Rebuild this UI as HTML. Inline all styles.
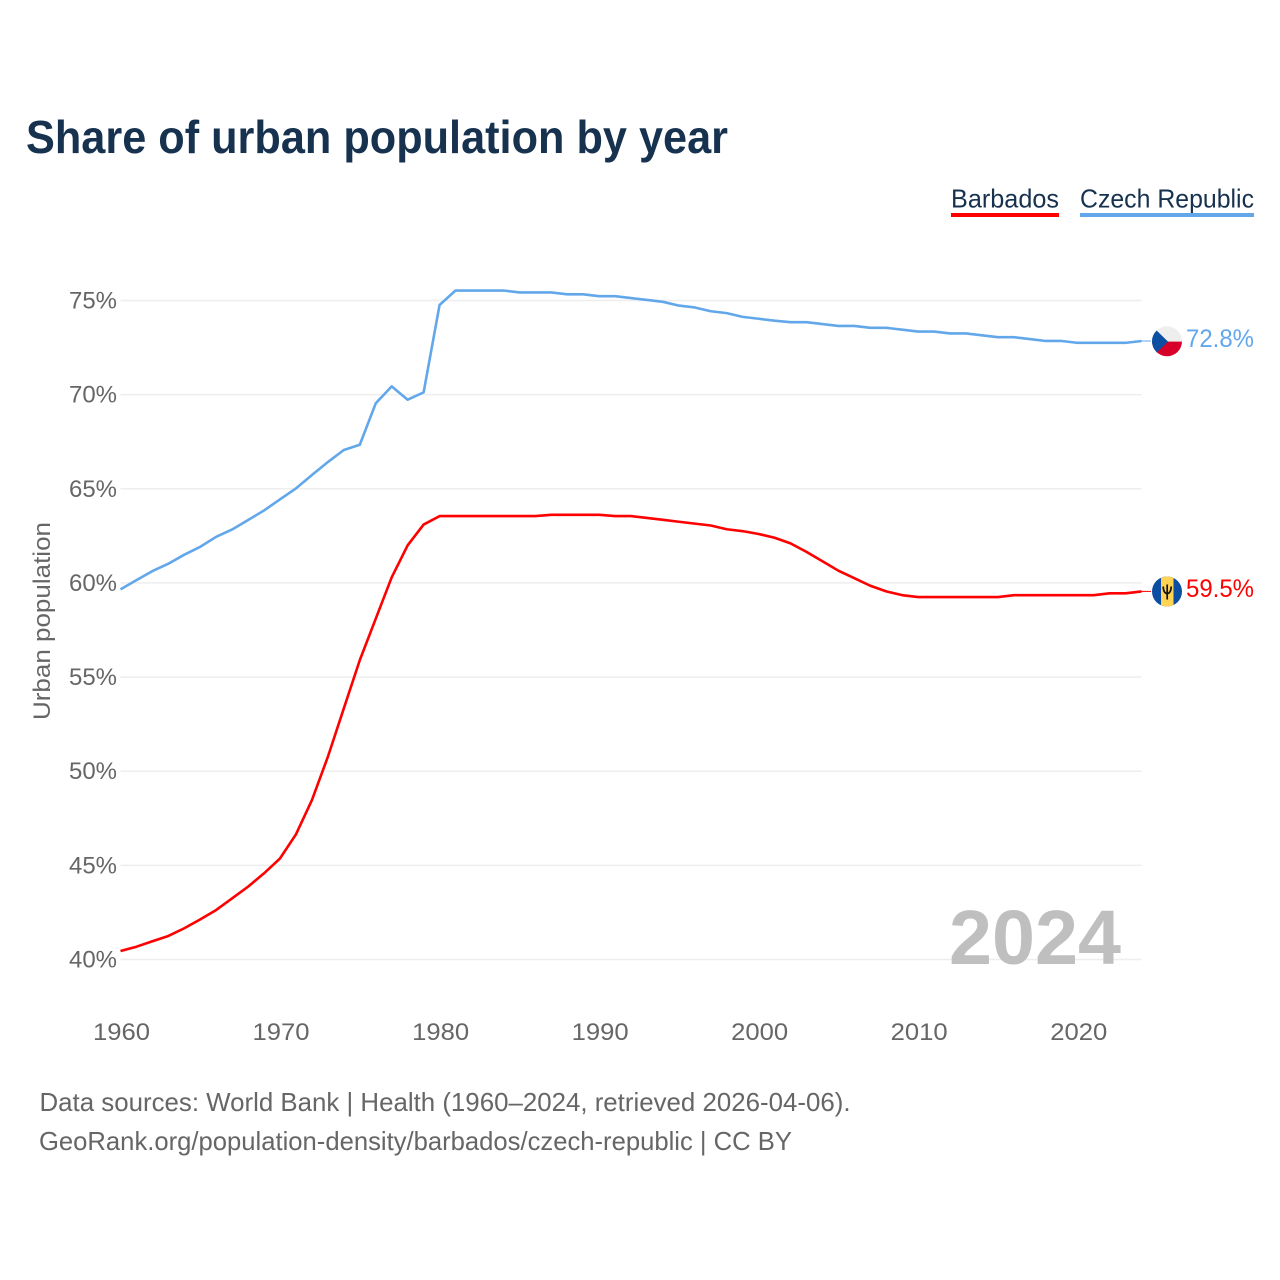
<!DOCTYPE html>
<html lang="en">
<head>
<meta charset="utf-8">
<title>Share of urban population by year</title>
<style>
html,body{margin:0;padding:0;background:#fff;}
svg{display:block;font-family:"Liberation Sans",sans-serif;}
</style>
</head>
<body>
<svg id="chart" xmlns="http://www.w3.org/2000/svg" width="1280" height="1280" viewBox="0 0 1280 1280">
  <rect x="0" y="0" width="1280" height="1280" fill="#ffffff"/>
  <text x="26" y="153" font-size="46" font-weight="700" fill="#17324f" textLength="702" lengthAdjust="spacingAndGlyphs">Share of urban population by year</text>

  <g>
    <text x="951" y="207.5" font-size="26" fill="#17324f" textLength="108" lengthAdjust="spacingAndGlyphs">Barbados</text>
    <rect x="951" y="213" width="108" height="4" fill="#ff0000"/>
  </g>
  <g>
    <text x="1080" y="207.5" font-size="26" fill="#17324f" textLength="174" lengthAdjust="spacingAndGlyphs">Czech Republic</text>
    <rect x="1080" y="213" width="174" height="4" fill="#63a7eb"/>
  </g>

  <g id="grid"></g>
  <g id="yticks"></g>
  <g id="xticks"></g>

  <text transform="translate(50 621) rotate(-90)" text-anchor="middle" font-size="24" fill="#666666" textLength="198" lengthAdjust="spacingAndGlyphs">Urban population</text>

  <text x="949" y="964" font-size="77" font-weight="700" fill="#bfbfbf" textLength="172" lengthAdjust="spacingAndGlyphs">2024</text>

  <g id="series"></g>

  <defs>
    <clipPath id="clip-cz"><circle cx="1167" cy="341.3" r="15"/></clipPath>
    <clipPath id="clip-bb"><circle cx="1167" cy="591.5" r="15"/></clipPath>
  </defs>

  <g clip-path="url(#clip-cz)">
    <rect x="1152" y="326" width="30" height="15.6" fill="#eeeeee"/>
    <rect x="1152" y="341.6" width="30" height="15.4" fill="#d7002b"/>
    <polygon points="1152,326 1168,341.6 1152,357" fill="#0b4ea2"/>
  </g>
  <text id="label-cz" x="1186" y="347" font-size="25" fill="#63a7eb" textLength="68" lengthAdjust="spacingAndGlyphs">72.8%</text>

  <g clip-path="url(#clip-bb)">
    <rect x="1152" y="576" width="30" height="31" fill="#0b4ea2"/>
    <rect x="1161" y="576" width="12.5" height="31" fill="#ffd455"/>
    <path d="M1163.2 586.5 C1163.3 591 1165 593.3 1167.2 593.7 C1169.4 593.3 1171.1 591 1171.2 586.5 M1167.2 584.5 V599.5" fill="none" stroke="#111111" stroke-width="1.7"/>
  </g>
  <text id="label-bb" x="1186" y="597" font-size="25" fill="#ff0000" textLength="68" lengthAdjust="spacingAndGlyphs">59.5%</text>

  <text x="39.5" y="1111" font-size="26" fill="#666666" textLength="811" lengthAdjust="spacingAndGlyphs">Data sources: World Bank | Health (1960–2024, retrieved 2026-04-06).</text>
  <text x="39" y="1150" font-size="26" fill="#666666" textLength="753" lengthAdjust="spacingAndGlyphs">GeoRank.org/population-density/barbados/czech-republic | CC BY</text>
</svg>
<script>
const firstYear = 1960;
const yTickValues = [40, 45, 50, 55, 60, 65, 70, 75];
const xTickValues = [1960, 1970, 1980, 1990, 2000, 2010, 2020];
const barbadosValues = [
  40.45, 40.68, 40.97, 41.25, 41.66, 42.13, 42.63, 43.25, 43.87, 44.58,
  45.37, 46.65, 48.47, 50.77, 53.34, 55.9, 58.1, 60.3, 62.0, 63.1,
  63.55, 63.55, 63.55, 63.55, 63.55, 63.55, 63.55, 63.62, 63.62, 63.62,
  63.62, 63.55, 63.55, 63.45, 63.35, 63.25, 63.15, 63.05, 62.85, 62.75,
  62.6, 62.4, 62.1, 61.65, 61.15, 60.65, 60.25, 59.85, 59.55, 59.35,
  59.25, 59.25, 59.25, 59.25, 59.25, 59.25, 59.35, 59.35, 59.35, 59.35,
  59.35, 59.35, 59.45, 59.45, 59.55
];
const czechValues = [
  59.66, 60.15, 60.63, 61.02, 61.5, 61.92, 62.45, 62.84, 63.34, 63.85,
  64.44, 65.02, 65.73, 66.42, 67.06, 67.34, 69.54, 70.44, 69.73, 70.12,
  74.76, 75.53, 75.53, 75.53, 75.53, 75.43, 75.43, 75.43, 75.33, 75.33,
  75.23, 75.23, 75.13, 75.03, 74.93, 74.73, 74.63, 74.43, 74.33, 74.13,
  74.03, 73.93, 73.85, 73.85, 73.75, 73.65, 73.65, 73.55, 73.55, 73.45,
  73.35, 73.35, 73.25, 73.25, 73.15, 73.05, 73.05, 72.95, 72.85, 72.85,
  72.75, 72.75, 72.75, 72.75, 72.85
];

const NS = 'http://www.w3.org/2000/svg';
const xScale = (year) => 120.5 + (year - 1960) * (1141.5 - 120.5) / 64;
const yScale = (v) => 959.5 - (v - 40) * (959.5 - 300.5) / 35;

function make(tag, attrs, parent) {
  const el = document.createElementNS(NS, tag);
  for (const k in attrs) el.setAttribute(k, attrs[k]);
  parent.appendChild(el);
  return el;
}

const grid = document.getElementById('grid');
const yticks = document.getElementById('yticks');
const xticks = document.getElementById('xticks');
const series = document.getElementById('series');

yTickValues.forEach((v) => {
  const line = make('line', {x1: xScale(1960), x2: xScale(2024), y1: yScale(v), y2: yScale(v), stroke: '#eeeeee', 'stroke-width': 1.5}, grid);
  
  
  const t = make('text', {x: 117, y: yScale(v) + 8, 'text-anchor': 'end', 'font-size': 24, fill: '#666666', textLength: 48, lengthAdjust: 'spacingAndGlyphs'}, yticks);
  t.textContent = v + '%';
  
  
});

xTickValues.forEach((y) => {
  const t = make('text', {x: xScale(y) + 1, y: 1040, 'text-anchor': 'middle', 'font-size': 24, fill: '#666666', textLength: 57, lengthAdjust: 'spacingAndGlyphs'}, xticks);
  t.textContent = String(y);
  
  
});

function drawSeries(values, color, name) {
  const pts = values.map((v, i) => xScale(firstYear + i).toFixed(2) + ',' + yScale(v).toFixed(2));
  const lastY = yScale(values[values.length - 1]);
  const connector = make('line', {x1: xScale(2024), x2: 1151, y1: lastY, y2: lastY, stroke: color, 'stroke-width': 1}, series);
  
  
  const line = make('polyline', {points: pts.join(' '), fill: 'none', stroke: color, 'stroke-width': 2.6, 'stroke-linejoin': 'round'}, series);
  
  
}

drawSeries(czechValues, '#63a7eb', 'czech-republic');
drawSeries(barbadosValues, '#ff0000', 'barbados');
</script>
</body>
</html>
